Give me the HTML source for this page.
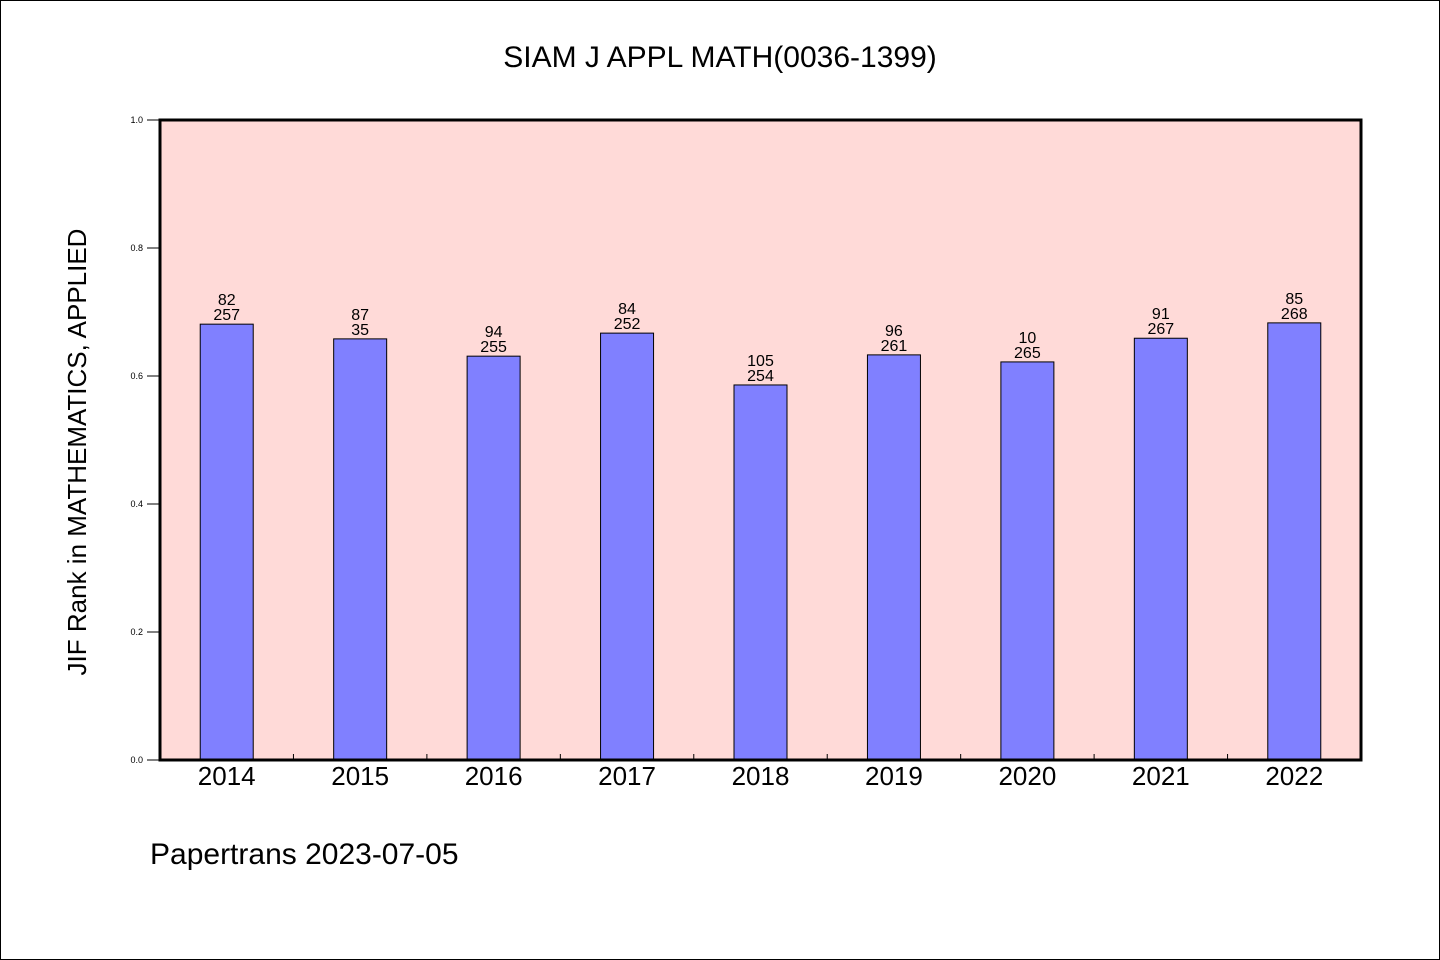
<!DOCTYPE html>
<html><head><meta charset="utf-8"><style>
html,body{margin:0;padding:0;background:#fff}
svg{display:block}
text{font-family:"WenQuanYi Zen Hei","Liberation Sans",sans-serif}
</style></head><body>
<svg id="c" width="1440" height="960">
<rect x="0.5" y="0.5" width="1439" height="959" fill="#fff" stroke="#000"/>
<text x="720" y="67" font-size="30" text-anchor="middle">SIAM J APPL MATH(0036-1399)</text>
<rect x="160" y="120" width="1201" height="640" fill="#ffdad8"/>
<g id="bars"></g>
<g id="axes"></g>
<rect x="160" y="120" width="1201" height="640" fill="none" stroke="#000" stroke-width="3"/>
<text transform="translate(86,452) rotate(-90)" font-size="26" text-anchor="middle">JIF Rank in MATHEMATICS, APPLIED</text>
<text x="150" y="864" font-size="30">Papertrans 2023-07-05</text>
</svg>
<script>
const categories=["2014","2015","2016","2017","2018","2019","2020","2021","2022"];
const values=[0.681,0.658,0.631,0.667,0.586,0.633,0.622,0.659,0.683];
const ranks=["82","87","94","84","105","96","10","91","85"];
const totals=["257","35","255","252","254","261","265","267","268"];
const yTicks=[0,0.2,0.4,0.6,0.8,1.0];
const X0=160,W=1201,Y0=760,H=640;
const band=W/categories.length;
const y=v=>Y0-v*H;
const xc=i=>X0+band*(i+0.5);
const ns="http://www.w3.org/2000/svg";
function mk(tag,attrs,parent){const e=document.createElementNS(ns,tag);for(const k in attrs)e.setAttribute(k,attrs[k]);parent.appendChild(e);return e;}
const bars=document.getElementById('bars'),axes=document.getElementById('axes');
const bw=53;
categories.forEach((c,i)=>{
  const b=mk('rect',{x:xc(i)-bw/2,y:y(values[i]),width:bw,height:Y0-y(values[i]),fill:'#8080ff',stroke:'#000','stroke-width':1},bars);
  
  
  const t1=mk('text',{x:xc(i),y:y(values[i])-19,'font-size':16,'text-anchor':'middle'},bars);t1.textContent=ranks[i];
  
  
  const t2=mk('text',{x:xc(i),y:y(values[i])-4,'font-size':16,'text-anchor':'middle'},bars);t2.textContent=totals[i];
  
  
  const xl=mk('text',{x:xc(i),y:785,'font-size':26,'text-anchor':'middle'},axes);xl.textContent=c;
  
  
  if(i>0){const tk=mk('line',{x1:X0+band*i,x2:X0+band*i,y1:Y0,y2:Y0-6,stroke:'#000','stroke-width':1},axes);
  
  }
});
yTicks.forEach(v=>{
  const tk=mk('line',{x1:147,x2:160,y1:y(v),y2:y(v),stroke:'#000','stroke-width':1},axes);
  
  
  const t=mk('text',{x:143,y:y(v)+3,'font-size':9,'text-anchor':'end'},axes);t.textContent=v.toFixed(1);
  
  
});
</script>
</body></html>
